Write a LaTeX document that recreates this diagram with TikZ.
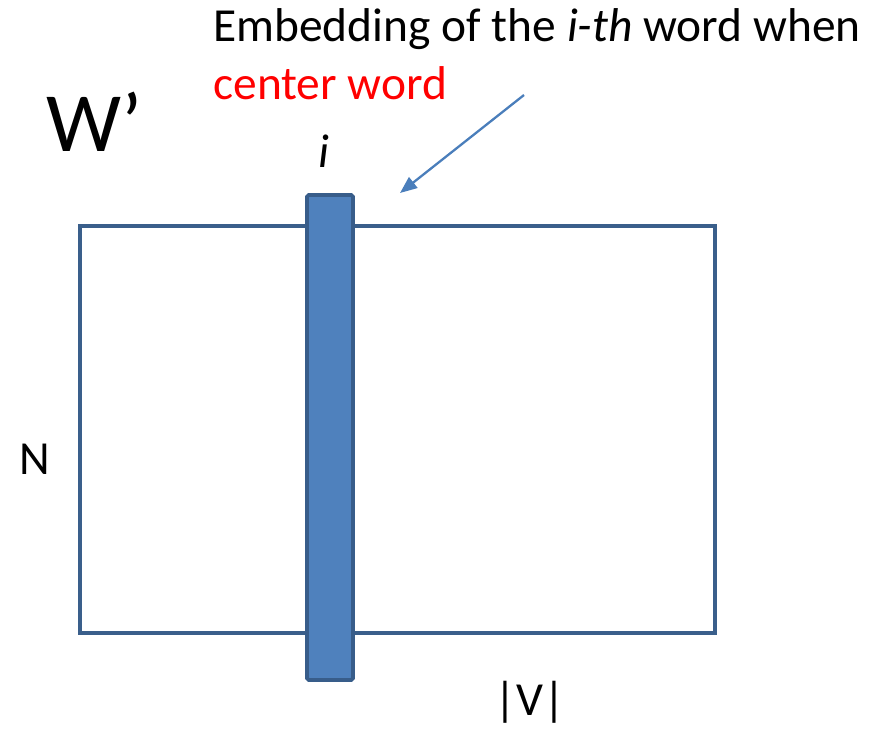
\documentclass[tikz,border=0pt]{standalone}
\usepackage{fontspec}
\setmainfont{Carlito}
\usetikzlibrary{arrows.meta, positioning}
\definecolor{embedframe}{HTML}{3A5F8B}
\definecolor{embedfill}{HTML}{4F81BD}
\definecolor{embeddark}{HTML}{385D8A}
\definecolor{embedarrow}{HTML}{4A7EBB}
\definecolor{embedred}{HTML}{FF0000}

\begin{document}
\begin{tikzpicture}[
  x=0.02cm, y=-0.02cm,
  matbox/.style={draw=embedframe, line width=2.1pt, minimum width=12.7cm, minimum height=8.14cm, inner sep=0pt},
  colbox/.style={draw=embeddark, fill=embedfill, line width=2.1pt, rounded corners=1pt, minimum width=0.92cm, minimum height=9.7cm, inner sep=0pt},
  lbl/.style={font=\fontsize{27}{32}\selectfont, inner sep=0pt},
  pointer/.style={-{Triangle[length=0.34cm, width=0.27cm]}, line width=1.3pt, embedarrow}
]
\useasboundingbox (0,0) rectangle (888,729);

% Matrix and its i-th column
\node[matbox] (wmat) at (397.5,429.5) {};
\node[colbox] (icol) at (330,437.5) {};

% Labels
\node[inner sep=0pt, anchor=base west, font=\fontsize{48}{56}\selectfont] (wname) at (46,152) {W’};
\node[lbl, anchor=base] (ilbl) at (324,168) {\itshape i};
\node[lbl, anchor=base west] (nlbl) at (19,474) {N};
\node[lbl, anchor=base] (vlbl) at (530,715) {|V|};

% Annotation
\node[lbl, anchor=base west] (title) at (213,42) {Embedding of the \textit{i-th} word when};
\node[lbl, anchor=base west, text=embedred] (center) at (213,100) {center word};
\coordinate (tail) at (524,95);
\coordinate (head) at (400,193);
\draw[pointer] (tail) -- (head);

\end{tikzpicture}
\end{document}
